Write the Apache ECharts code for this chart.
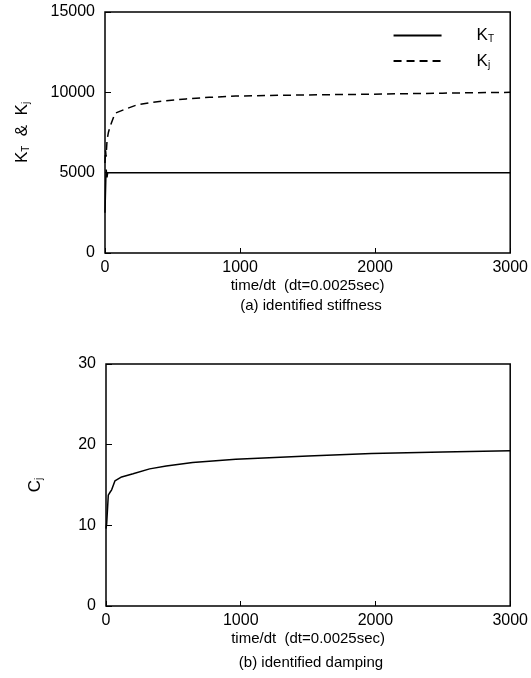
<!DOCTYPE html>
<html>
<head>
<meta charset="utf-8">
<script src="https://cdn.jsdelivr.net/npm/echarts@6/dist/echarts.min.js"></script>
<style>
  html, body { margin: 0; padding: 0; background: #fff; }
  #chart { width: 531px; height: 678px; }
</style>
</head>
<body>
<div id="chart"></div>
<script>
// (a) stiffness
const ktSteps = [0, 3, 6, 9, 12, 15, 20, 30, 100, 500, 1000, 2000, 3000];
const ktValues = [2500, 3600, 4600, 5200, 4900, 4700, 5000, 5000, 5000, 5000, 5000, 5000, 5000];

const kiSteps = [0, 4, 8, 15, 25, 37, 74, 147, 233, 331, 453, 600, 772, 968, 1500, 1950, 2500, 3000];
const kiValues = [5600, 6400, 6000, 7000, 7500, 7860, 8700, 8940, 9210, 9350, 9480, 9590, 9690, 9770, 9840, 9880, 9950, 10000];

// (b) damping
const ciSteps = [0, 5, 17, 30, 42, 66, 116, 201, 324, 447, 643, 963, 1500, 1970, 2500, 3000];
const ciValues = [9.6, 10.2, 13.75, 14.1, 14.4, 15.5, 16.0, 16.4, 17.0, 17.35, 17.8, 18.2, 18.6, 18.9, 19.1, 19.25];

const pairs = (xs, ys) => xs.map((x, i) => [x, ys[i]]);

const chart = echarts.init(document.getElementById('chart'));
const font = 'Liberation Sans';
const sub = { fontSize: 10, fontFamily: font, color: '#000', padding: [8, 0, 0, 0] };
const big = { fontSize: 17, fontFamily: font, color: '#000' };
const plain = v => String(v);

const xAxisBase = {
  type: 'value', min: 0, max: 3000, interval: 1000,
  axisLine: { show: false },
  axisTick: { inside: true, length: 5, lineStyle: { color: '#000' } },
  splitLine: { show: false },
  axisLabel: { color: '#000', fontSize: 16, fontFamily: font, margin: 7, formatter: plain },
  name: 'time/dt  (dt=0.0025sec)', nameLocation: 'middle', nameGap: 25,
  nameTextStyle: { color: '#000', fontSize: 15, fontFamily: font }
};

const option = {
  animation: false,
  backgroundColor: '#fff',
  title: [
    { text: '(a) identified stiffness', left: 306, top: 293, textAlign: 'center',
      textStyle: { fontSize: 15, fontWeight: 'normal', fontFamily: font, color: '#000' } },
    { text: '(b) identified damping', left: 306, top: 650, textAlign: 'center',
      textStyle: { fontSize: 15, fontWeight: 'normal', fontFamily: font, color: '#000' } }
  ],
  legend: {
    right: 32, top: 22, orient: 'vertical', itemWidth: 48, itemGap: 8,
    itemHeight: 10,
    itemStyle: { opacity: 0 },
    textStyle: { color: '#000', fontFamily: font, padding: [0, 0, 0, 30],
      rich: { k: big, s: sub } },
    formatter: n => n === 'KT' ? '{k|K}{s|T}' : '{k|K}{s|j}',
    data: ['KT', 'Kj']
  },
  grid: [
    { left: 105, top: 12, width: 408, height: 241, show: true,
      borderColor: '#000', borderWidth: 1.5, backgroundColor: 'transparent' },
    { left: 106, top: 364, width: 407, height: 242, show: true,
      borderColor: '#000', borderWidth: 1.5, backgroundColor: 'transparent' }
  ],
  xAxis: [
    Object.assign({ gridIndex: 0 }, xAxisBase),
    Object.assign({ gridIndex: 1 }, xAxisBase)
  ],
  yAxis: [
    { gridIndex: 0, type: 'value', min: 0, max: 15000, interval: 5000,
      axisLine: { show: false },
      axisTick: { inside: true, length: 6, lineStyle: { color: '#000' } },
      splitLine: { show: false },
      axisLabel: { color: '#000', fontSize: 16, fontFamily: font, margin: 10, formatter: plain },
      name: '{k|K}{s|T}{g|  &  }{k|K}{s|j}', nameLocation: 'middle', nameGap: 74,
      nameRotate: 90,
      nameTextStyle: { rich: { k: big, s: sub, g: big } } },
    { gridIndex: 1, type: 'value', min: 0, max: 30, interval: 10,
      axisLine: { show: false },
      axisTick: { inside: true, length: 6, lineStyle: { color: '#000' } },
      splitLine: { show: false },
      axisLabel: { color: '#000', fontSize: 16, fontFamily: font, margin: 10, formatter: plain },
      name: '{k|C}{s|j}', nameLocation: 'middle', nameGap: 62, nameRotate: 90,
      nameTextStyle: { rich: { k: big, s: sub } } }
  ],
  series: [
    { name: 'KT', type: 'line', xAxisIndex: 0, yAxisIndex: 0, showSymbol: false, symbol: 'none',
      data: pairs(ktSteps, ktValues),
      lineStyle: { color: '#000', width: 1.5, type: 'solid' }, itemStyle: { color: '#000' } },
    { name: 'Kj', type: 'line', xAxisIndex: 0, yAxisIndex: 0, showSymbol: false, symbol: 'none',
      data: pairs(kiSteps, kiValues),
      lineStyle: { color: '#000', width: 1.5, type: [8, 5] }, itemStyle: { color: '#000' } },
    { name: 'Cj', type: 'line', xAxisIndex: 1, yAxisIndex: 1, showSymbol: false, symbol: 'none',
      data: pairs(ciSteps, ciValues),
      lineStyle: { color: '#000', width: 1.5 }, itemStyle: { color: '#000' } }
  ]
};

chart.setOption(option);
</script>
</body>
</html>
